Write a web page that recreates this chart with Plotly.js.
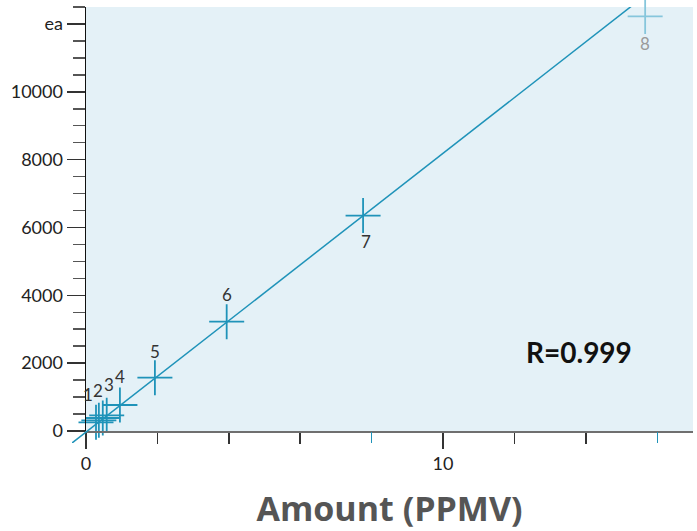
<!DOCTYPE html>
<html>
<head>
<meta charset="utf-8">
<script src="https://cdn.plot.ly/plotly-3.0.1.min.js"></script>
<style>html,body{margin:0;padding:0;background:#fff;}#chart{width:697px;height:531px;}</style>
</head>
<body>
<div id="chart"></div>
<script>
// ---- data ----
const ptX = [0.28, 0.36, 0.47, 0.58, 0.95, 1.93, 3.94, 7.76, 15.66];
const ptY = [256, 315, 383, 463, 766, 1572, 3224, 6351, 12221];
const ptLabels = ['1', '2', '', '3', '4', '5', '6', '7', '8'];
const fitX = [-1, 16];
const fitY = [-855, 13119];
const xTickVals = [0, 10];
const xTickText = ['0', '10'];
const xMinorVals = [2, 4, 6, 12, 14];
const xBlueTickVals = [8, 16];
const yTickVals = [0, 2000, 4000, 6000, 8000, 10000, 12000];
const yTickText = ['0', '2000', '4000', '6000', '8000', '10000', 'ea'];
const rText = 'R=0.999';
const xTitle = 'Amount (PPMV)';

// ---- styling ----
const BLUE = '#1f93b9';
const FADED = '#86c6dc';
const FONT = 'Lato, "Open Sans", sans-serif';
const TITLE_FONT = '"Open Sans", Lato, sans-serif';
const W = 697, H = 531;
const M = {l: 72, r: 4, t: 7, b: 88};
const paperW = W - M.l - M.r, paperH = H - M.t - M.b;
const dx = 14 / paperW, dy = 12 / paperH;
const xRange = [0, 17], yRange = [0, 12500];
// overlay subplot with identical scale but extended area (so the fit line runs past the axes)
const x3Range = [xRange[0] - (xRange[1] - xRange[0]) * dx / (1 - dx), xRange[1]];
const y3Range = [yRange[0] - (yRange[1] - yRange[0]) * dy / (1 - dy), yRange[1]];

const colors = ptLabels.map((l, i) => i === ptLabels.length - 1 ? FADED : BLUE);
const labelColors = ptLabels.map((l, i) => i === ptLabels.length - 1 ? '#9a9a9a' : '#333');
// label offsets (px): above for low points, below for 7 and 8
const labelShiftY = [28, 30, 0, 31, 29, 26, 27, -26, -27];
const labelShiftX = [-8, -1, 0, 2, 0, 0, 0, 3, 0];

const traces = [
  {
    x: fitX, y: fitY, xaxis: 'x3', yaxis: 'y3', mode: 'lines',
    line: {color: BLUE, width: 1.5}, hoverinfo: 'skip', showlegend: false
  },
  {
    x: ptX, y: ptY, mode: 'markers', cliponaxis: false,
    marker: {symbol: 'cross-thin', size: 25, color: colors, line: {color: colors, width: 1.8}},
    showlegend: false
  },
  { x: [], y: [], xaxis: 'x2', yaxis: 'y', showlegend: false }
];

const annotations = ptX.map((x, i) => ({
  x: x, y: ptY[i], xref: 'x', yref: 'y', text: ptLabels[i], showarrow: false,
  xshift: labelShiftX[i], yshift: labelShiftY[i],
  font: {family: FONT, size: 17, color: labelColors[i]}
}));
annotations.push({
  x: 13.8, y: 2330, xref: 'x', yref: 'y', text: rText, showarrow: false,
  font: {family: FONT, size: 28, color: '#111', weight: 'bold'}
});

const layout = {
  width: W, height: H,
  margin: M,
  paper_bgcolor: '#ffffff',
  plot_bgcolor: 'rgba(0,0,0,0)',
  font: {family: FONT, size: 18, color: '#222'},
  showlegend: false,
  xaxis: {
    domain: [dx, 1], range: xRange, anchor: 'y',
    showgrid: false, zeroline: false,
    showline: true, linecolor: '#6f6f6f', linewidth: 1.5,
    ticks: 'outside', tickmode: 'array', tickvals: xTickVals, ticktext: xTickText,
    ticklen: 16, tickwidth: 1.5, tickcolor: '#333',
    tickfont: {family: FONT, size: 18, color: '#222'},
    minor: {tickmode: 'array', tickvals: xMinorVals, ticks: 'outside', ticklen: 11, tickwidth: 1.5, tickcolor: '#333', showgrid: false},
    title: {text: xTitle, standoff: 25, font: {family: TITLE_FONT, size: 34, color: '#555', weight: 'bold'}},
    automargin: false
  },
  xaxis2: {
    overlaying: 'x', anchor: 'y', side: 'bottom', range: xRange,
    showgrid: false, zeroline: false, showline: false,
    ticks: 'outside', tickmode: 'array', tickvals: xBlueTickVals,
    ticklen: 11, tickwidth: 1.5, tickcolor: BLUE, showticklabels: false,
    automargin: false
  },
  yaxis: {
    domain: [dy, 1], range: yRange, anchor: 'x',
    showgrid: false, zeroline: false,
    showline: true, linecolor: '#111', linewidth: 1.5,
    ticks: 'outside', tickmode: 'array', tickvals: yTickVals, ticktext: yTickText,
    ticklen: 18, tickwidth: 1.5, tickcolor: '#333',
    tickfont: {family: FONT, size: 18, color: '#222'},
    minor: {tickmode: 'linear', tick0: 0, dtick: 500, ticks: 'outside', ticklen: 12, tickwidth: 1.5, tickcolor: '#555', showgrid: false},
    automargin: false
  },
  xaxis3: {domain: [0, 1], range: x3Range, anchor: 'y3', visible: false},
  yaxis3: {domain: [0, 1], range: y3Range, anchor: 'x3', visible: false},
  shapes: [{
    type: 'rect', xref: 'x domain', yref: 'y domain', x0: 0, x1: 1, y0: 0, y1: 1,
    fillcolor: '#e4f1f7', line: {width: 0}, layer: 'below'
  }],
  annotations: annotations
};

Plotly.newPlot('chart', traces, layout, {displayModeBar: false, staticPlot: true});
</script>
</body>
</html>
